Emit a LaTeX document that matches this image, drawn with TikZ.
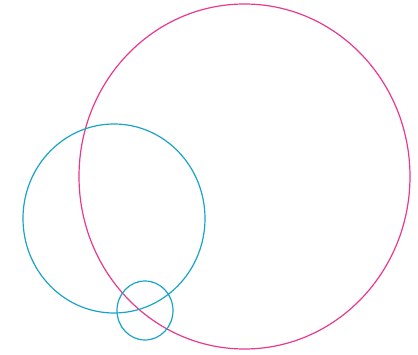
\documentclass[tikz,border=0pt]{standalone}
\usepackage{tikz}
\definecolor{ringPink}{RGB}{232, 56, 143}
\definecolor{ringCyan}{RGB}{26, 163, 200}

\begin{document}
\begin{tikzpicture}[x=1pt, y=-1pt, ring/.style={line width=1.2pt}]
    \useasboundingbox (0,0) rectangle (418,355);
    \draw[ring, color=ringPink] (244.5,176.5) ellipse [x radius=165.5, y radius=172.5];
    \draw[ring, color=ringCyan] (114,218.5) ellipse [x radius=91, y radius=94.5];
    \draw[ring, color=ringCyan] (145,310.5) ellipse [x radius=28, y radius=29.5];
\end{tikzpicture}
\end{document}
